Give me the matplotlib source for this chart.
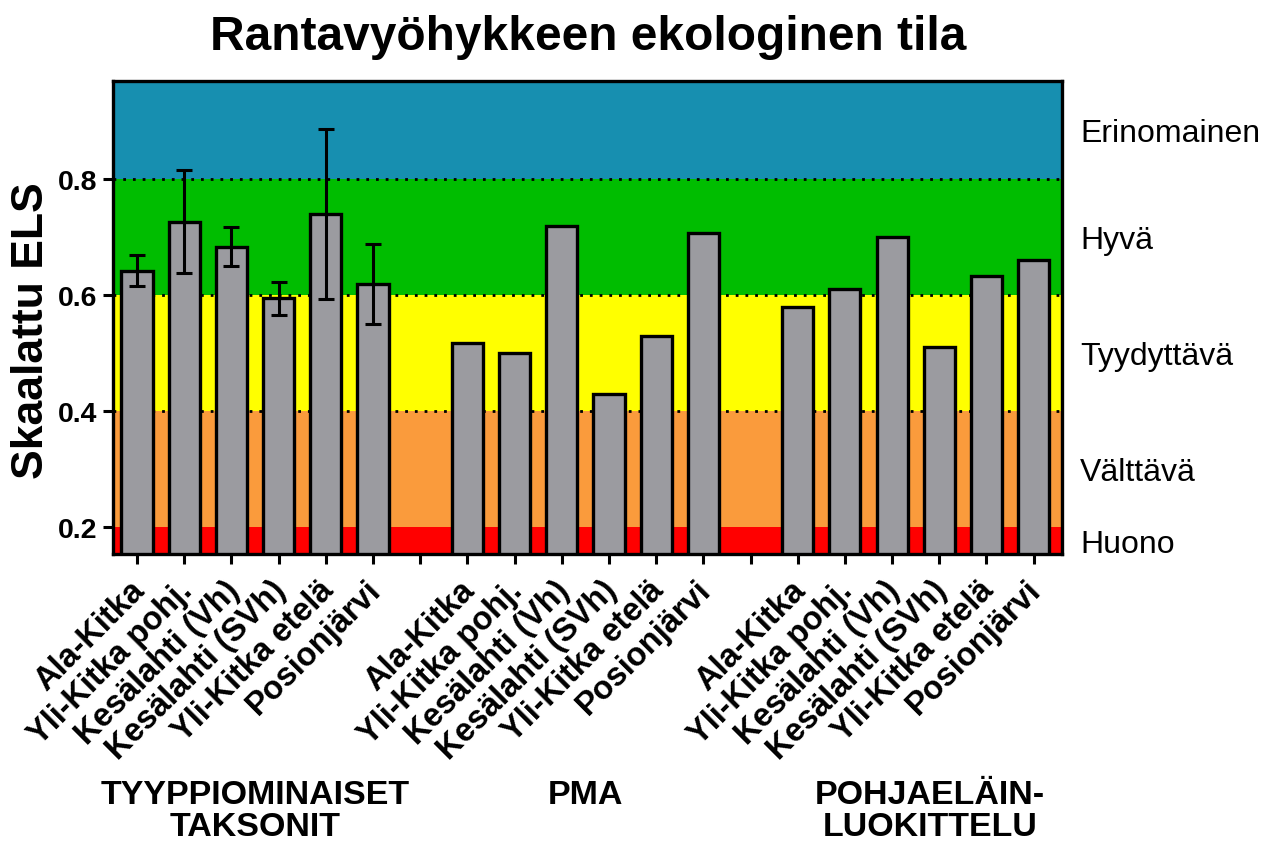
import matplotlib
matplotlib.use('Agg')
import matplotlib.pyplot as plt
import matplotlib.transforms as mtransforms

# data
lakes = ['Ala-Kitka', 'Yli-Kitka pohj.', 'Kesälahti (Vh)', 'Kesälahti (SVh)',
         'Yli-Kitka etelä', 'Posionjärvi']
taxa_vals = [0.642, 0.726, 0.683, 0.594, 0.740, 0.618]
taxa_err = [0.027, 0.089, 0.034, 0.029, 0.147, 0.069]
pma_vals = [0.517, 0.500, 0.718, 0.429, 0.529, 0.707]
benthos_vals = [0.579, 0.611, 0.700, 0.510, 0.633, 0.661]
group_names = ['TYYPPIOMINAISET\nTAKSONIT', 'PMA', 'POHJAELÄIN-\nLUOKITTELU']

class_names = ['Huono', 'Välttävä', 'Tyydyttävä', 'Hyvä', 'Erinomainen']
class_limits = [0.153, 0.2, 0.4, 0.6, 0.8, 0.969]
class_colors = ['#ff0000', '#fa9b3c', '#ffff00', '#00bd00', '#178fb0']

plt.rcParams['font.family'] = ['Liberation Sans', 'DejaVu Sans']

fig = plt.figure(figsize=(12.76, 8.62), dpi=100)
ax = fig.add_axes([113 / 1276, 1 - 555 / 862, (1062 - 113) / 1276, (555 - 82) / 862])

# quality class bands
for i in range(len(class_names)):
    ax.axhspan(class_limits[i], class_limits[i + 1], color=class_colors[i], zorder=0, lw=0)
for y in class_limits[2:5]:
    ax.axhline(y, color='k', ls=(0, (1, 2.5)), lw=2, zorder=1)

x1 = [i for i in range(6)]
x2 = [i + 7 for i in range(6)]
x3 = [i + 14 for i in range(6)]
bar_style = dict(width=0.66, color='#9b9ba0', edgecolor='k', linewidth=2.4, zorder=2)
ax.bar(x1, taxa_vals, **bar_style)
ax.bar(x2, pma_vals, **bar_style)
ax.bar(x3, benthos_vals, **bar_style)
ax.errorbar(x1, taxa_vals, yerr=taxa_err, fmt='none', ecolor='k',
            elinewidth=2.2, capsize=5.5, capthick=2.2, zorder=3)

ax.set_xlim(-0.51, 19.6)
ax.set_ylim(class_limits[0], class_limits[-1])
ax.tick_params(axis='both', length=7, width=2.2, pad=4)
ax.set_yticks([0.2, 0.4, 0.6, 0.8])
ax.set_yticklabels(['0.2', '0.4', '0.6', '0.8'], fontsize=20.5, fontweight='bold')

ticks = list(range(20))
tick_labels = [''] * 20
for i in range(6):
    tick_labels[x1[i]] = lakes[i]
    tick_labels[x2[i]] = lakes[i]
    tick_labels[x3[i]] = lakes[i]
ax.set_xticks(ticks)
ax.set_xticklabels(tick_labels, rotation=45, ha='right', rotation_mode='anchor',
                   fontsize=23.5, fontweight='bold')
# nudge the slanted labels down-left like in the original
shift = mtransforms.ScaledTranslation(-8 / 100, -5 / 100, fig.dpi_scale_trans)
for lab in ax.get_xticklabels():
    lab.set_transform(lab.get_transform() + shift)
for s in ax.spines.values():
    s.set_linewidth(2.4)

ax.set_ylabel('Skaalattu ELS', fontsize=32, fontweight='bold', va='center')
ax.yaxis.set_label_coords(-0.0854, 0.4736)
fig.text(588 / 1276, 1 - 38 / 862, 'Rantavyöhykkeen ekologinen tila',
         fontsize=34.5, fontweight='bold', ha='center', va='center')

# class names on the right
right = mtransforms.blended_transform_factory(ax.transAxes, ax.transData)
for i in range(len(class_names)):
    mid = (class_limits[i] + class_limits[i + 1]) / 2
    ax.text(1.019, mid, class_names[i], transform=right, fontsize=23,
            ha='left', va='center_baseline')

# group names under the tick labels
below = mtransforms.blended_transform_factory(ax.transData, fig.transFigure)
centers = [2.5, 9.5, 16.8]
for c, name in zip(centers, group_names):
    ax.text(c, 1 - 780 / 862, name, transform=below, fontsize=24.5, fontweight='bold',
            ha='center', va='top', linespacing=1.05)

fig.savefig('out.png', dpi=100)
